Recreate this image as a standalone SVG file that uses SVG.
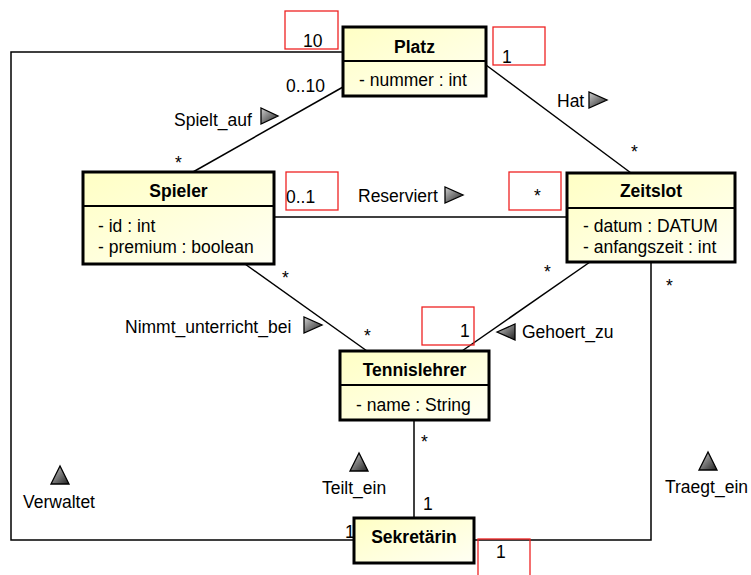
<svg xmlns="http://www.w3.org/2000/svg" width="751" height="575" viewBox="0 0 751 575">
<defs>
<linearGradient id="boxfill" x1="0" y1="0" x2="1" y2="1">
<stop offset="0" stop-color="#FFFFC4"/>
<stop offset="1" stop-color="#FFFFF4"/>
</linearGradient>
<linearGradient id="trifill" x1="0" y1="0" x2="1" y2="1">
<stop offset="0" stop-color="#D0D0D0"/>
<stop offset="1" stop-color="#202020"/>
</linearGradient>
</defs>
<style>
.box{fill:url(#boxfill);stroke:#000;stroke-width:3}
.div{stroke:#000;stroke-width:1.8}
.con{fill:none;stroke:#000;stroke-width:1.5}
.red{fill:none;stroke:#EE2222;stroke-width:1.3}
.tri{fill:url(#trifill);stroke:#000;stroke-width:1.3}
text{font-family:"Liberation Sans",Arial,sans-serif;font-size:17.5px;fill:#000}
.t{font-weight:bold;text-anchor:middle}
</style>
<g id="connectors">
<polyline class="con" points="343,52 11,52 11,540 354,540"/>
<line class="con" x1="343" y1="87" x2="193" y2="172"/>
<line class="con" x1="486" y1="65" x2="631" y2="173"/>
<line class="con" x1="274" y1="217" x2="567" y2="217"/>
<line class="con" x1="245" y1="264" x2="367" y2="351"/>
<line class="con" x1="590" y1="262" x2="462" y2="351"/>
<line class="con" x1="414" y1="420" x2="414" y2="518"/>
<polyline class="con" points="474,540 651,540 651,262"/>
</g>
<g id="labels">
<rect class="red" x="285" y="11" width="53" height="38"/>
<rect class="red" x="493" y="27" width="52" height="38"/>
<rect class="red" x="286" y="172" width="52" height="38"/>
<rect class="red" x="509" y="172" width="52" height="38"/>
<rect class="red" x="422" y="307" width="52" height="38"/>
<rect class="red" x="478" y="539" width="52" height="40"/>
<text x="303" y="47">10</text>
<text x="502" y="63">1</text>
<text x="286" y="92">0..10</text>
<text x="174" y="126">Spielt_auf</text>
<polygon class="tri" points="261,108 261,124 278,116"/>
<text x="175" y="169">*</text>
<text x="557" y="107">Hat</text>
<polygon class="tri" points="589,92 589,108 607,100"/>
<text x="631" y="158">*</text>
<text x="286" y="203">0..1</text>
<text x="358" y="202">Reserviert</text>
<polygon class="tri" points="445,187 445,203 463,195"/>
<text x="534" y="202">*</text>
<text x="125" y="333">Nimmt_unterricht_bei</text>
<polygon class="tri" points="304,317 304,333 322,325"/>
<text x="282" y="284">*</text>
<text x="364" y="342">*</text>
<text x="460" y="337">1</text>
<text x="522" y="338">Gehoert_zu</text>
<polygon class="tri" points="497,332 515,324 515,340"/>
<text x="544" y="278">*</text>
<text x="666" y="292">*</text>
<text x="421" y="448">*</text>
<text x="423" y="510">1</text>
<text x="345" y="538">1</text>
<text x="496" y="558">1</text>
<text x="23" y="508">Verwaltet</text>
<polygon class="tri" points="60,466 51,484 69,484"/>
<text x="322" y="494">Teilt_ein</text>
<polygon class="tri" points="359,453 350,471 368,471"/>
<text x="665" y="493">Traegt_ein</text>
<polygon class="tri" points="708,452 699,470 717,470"/>
</g>
<g id="Platz">
<rect class="box" x="343" y="27" width="143" height="69"/>
<line class="div" x1="343" y1="61" x2="486" y2="61"/>
<text class="t" x="414.5" y="53">Platz</text>
<text x="359" y="86">- nummer : int</text>
</g>
<g id="Spieler">
<rect class="box" x="83" y="172" width="191" height="92"/>
<line class="div" x1="83" y1="206" x2="274" y2="206"/>
<text class="t" x="178.5" y="197">Spieler</text>
<text x="98" y="232">- id : int</text>
<text x="98" y="253">- premium : boolean</text>
</g>
<g id="Zeitslot">
<rect class="box" x="567" y="173" width="168" height="89"/>
<line class="div" x1="567" y1="208" x2="735" y2="208"/>
<text class="t" x="651" y="197">Zeitslot</text>
<text x="583" y="232">- datum : DATUM</text>
<text x="583" y="253">- anfangszeit : int</text>
</g>
<g id="Tennislehrer">
<rect class="box" x="340" y="351" width="149" height="69"/>
<line class="div" x1="340" y1="385" x2="489" y2="385"/>
<text class="t" x="414.5" y="376">Tennislehrer</text>
<text x="356" y="411">- name : String</text>
</g>
<g id="Sekretaerin">
<rect class="box" x="354" y="518" width="120" height="45"/>
<text class="t" x="414" y="543">Sekretärin</text>
</g>
</svg>
